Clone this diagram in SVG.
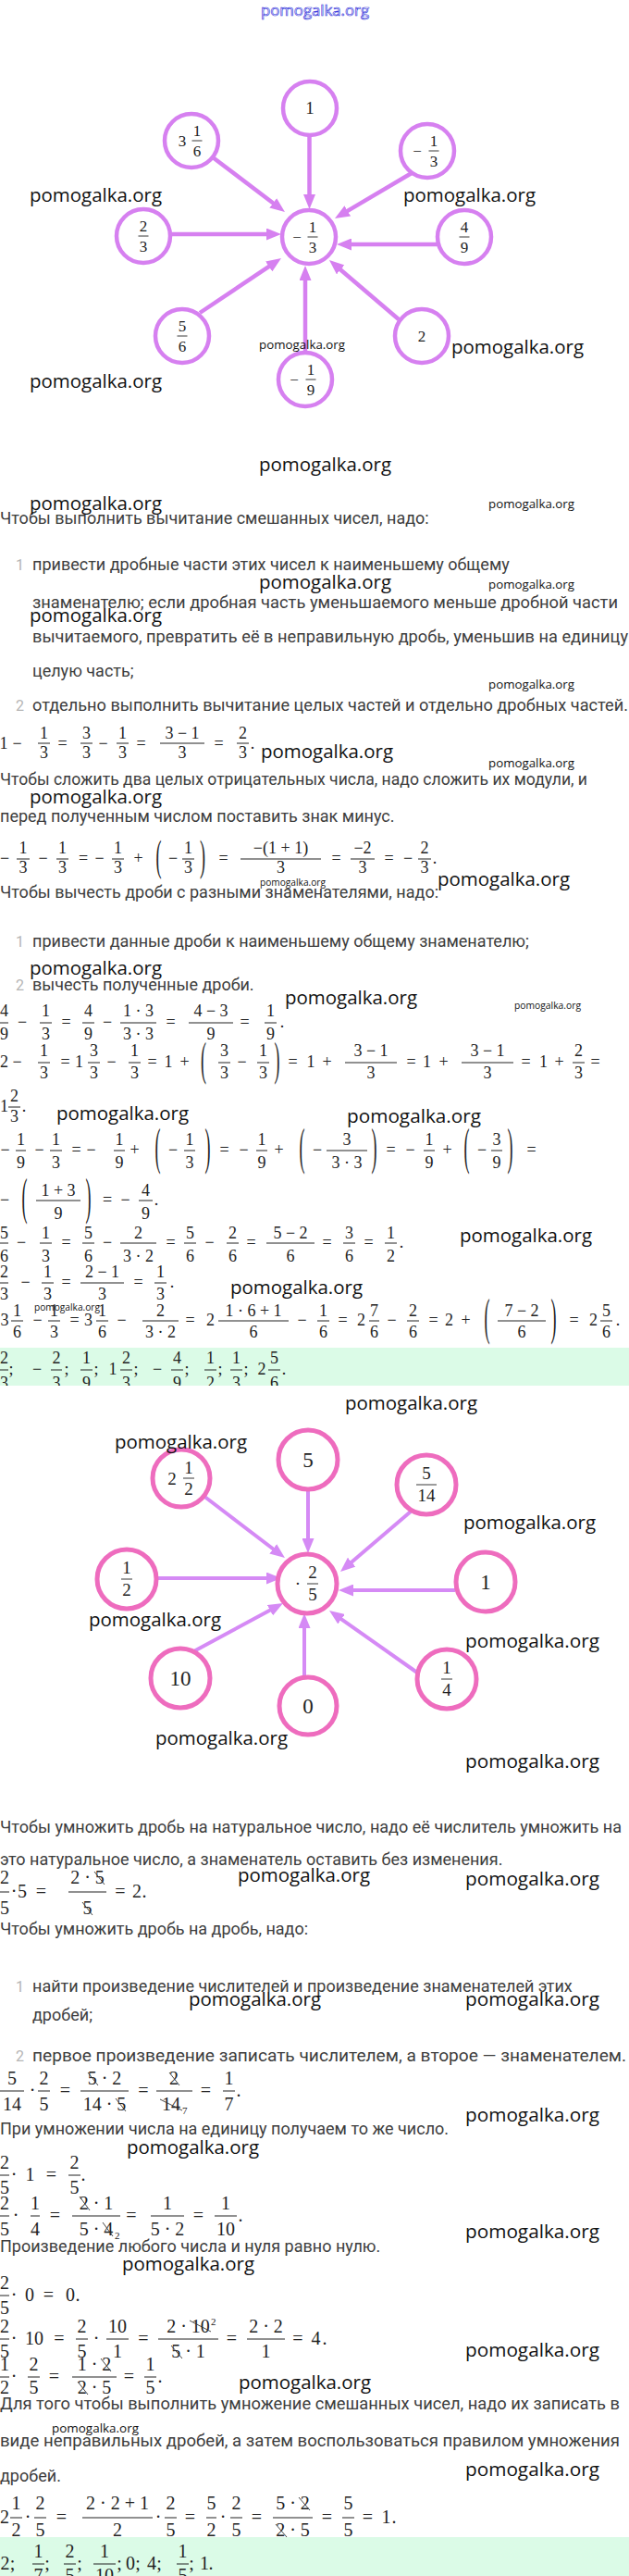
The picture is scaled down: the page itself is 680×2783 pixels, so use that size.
<svg xmlns="http://www.w3.org/2000/svg" width="680" height="2783" viewBox="0 0 680 2783">
<style>
.m{font-family:"Liberation Serif","DejaVu Serif",serif;font-size:18px;fill:#222;text-anchor:middle}
.m2{font-family:"Liberation Serif","DejaVu Serif",serif;font-size:20px;fill:#222;text-anchor:middle}
.sm{font-family:"Liberation Serif",serif;font-size:11px;fill:#222}
.fb{stroke:#222;stroke-width:1;fill:none}
.k{stroke:#333;stroke-width:0.9;fill:none}
.t{font-family:Roboto,"Noto Sans",sans-serif;font-size:18px;fill:#3d3d3d}
.mk{font-family:Roboto,"Noto Sans",sans-serif;font-size:16px;fill:#b5b5b5}
.w{font-family:"Open Sans","Noto Sans",sans-serif;fill:#111}
.wl{font-size:20px}.ws{font-size:13px}.wt{font-size:10.5px}
.c1{fill:#fff;stroke:#d680f0;stroke-width:4.5}
.a1{stroke:#d680f0;stroke-width:4.5;fill:none;marker-end:url(#h1)}
.c2{fill:#fff;stroke:#ee6cbe;stroke-width:5}
.a2{stroke:#d58af5;stroke-width:4;fill:none;marker-end:url(#h2)}
.nl{font-family:"Liberation Serif","DejaVu Serif",serif;font-size:17px;fill:#222;text-anchor:middle}
.nl2{font-family:"Liberation Serif","DejaVu Serif",serif;font-size:19px;fill:#222;text-anchor:middle}
.nb{stroke:#222;stroke-width:0.9;fill:none}
.band{fill:#dbfbe7}
</style>
<defs>
<marker id="h1" viewBox="0 0 16 13" refX="6" refY="6.5" markerWidth="16" markerHeight="13" markerUnits="userSpaceOnUse" orient="auto"><path d="M0,0L16,6.5L0,13z" fill="#d680f0"/></marker>
<marker id="h2" viewBox="0 0 16 13" refX="6" refY="6.5" markerWidth="16" markerHeight="13" markerUnits="userSpaceOnUse" orient="auto"><path d="M0,0L16,6.5L0,13z" fill="#d58af5"/></marker>
<clipPath id="cb1"><rect x="0" y="1456" width="680" height="41"/></clipPath>
<clipPath id="cb2"><rect x="0" y="2741" width="680" height="42"/></clipPath>
</defs>
<rect x="0" y="0" width="680" height="2783" fill="#fff"/>

<!-- Diagram 1 -->
<g id="d1-connectors">
<path class="a1" d="M334.5,146V216"/>
<path class="a1" d="M230,170L300,223"/>
<path class="a1" d="M445,187L370.6,230.9"/>
<path class="a1" d="M184,253H294"/>
<path class="a1" d="M473,264H374"/>
<path class="a1" d="M216,338L295.7,284.6"/>
<path class="a1" d="M330,381V297"/>
<path class="a1" d="M431,345L363.6,287.5"/>
</g>
<g id="d1-n1"><circle class="c1" cx="335" cy="117" r="29"/><text class="nl" x="335" y="123" style="font-size:19px">1</text></g>
<g id="d1-n2"><circle class="c1" cx="207" cy="152" r="29"/><text class="nl" x="197" y="158">3</text><text class="nl" x="213" y="147">1</text><path class="nb" d="M207.5,152H218.5"/><text class="nl" x="213" y="169">6</text></g>
<g id="d1-n3"><circle class="c1" cx="462" cy="163" r="29"/><text class="nl" x="451" y="169">−</text><text class="nl" x="469" y="158">1</text><path class="nb" d="M463.5,163H474.5"/><text class="nl" x="469" y="180">3</text></g>
<g id="d1-n4"><circle class="c1" cx="155" cy="255" r="29"/><text class="nl" x="155" y="250">2</text><path class="nb" d="M149.5,255H160.5"/><text class="nl" x="155" y="272">3</text></g>
<g id="d1-center"><circle class="c1" cx="334" cy="256" r="29"/><text class="nl" x="321" y="262">−</text><text class="nl" x="338" y="251">1</text><path class="nb" d="M332.5,256H343.5"/><text class="nl" x="338" y="273">3</text></g>
<g id="d1-n5"><circle class="c1" cx="502" cy="256" r="29"/><text class="nl" x="502" y="251">4</text><path class="nb" d="M496.5,256H507.5"/><text class="nl" x="502" y="273">9</text></g>
<g id="d1-n6"><circle class="c1" cx="197" cy="363" r="29"/><text class="nl" x="197" y="358">5</text><path class="nb" d="M191.5,363H202.5"/><text class="nl" x="197" y="380">6</text></g>
<g id="d1-n7"><circle class="c1" cx="456" cy="363" r="29"/><text class="nl" x="456" y="369">2</text></g>
<g id="d1-n8"><circle class="c1" cx="330" cy="410" r="29"/><text class="nl" x="318" y="416">−</text><text class="nl" x="336" y="405">1</text><path class="nb" d="M330.5,410H341.5"/><text class="nl" x="336" y="427">9</text></g>

<!-- Text part 1 -->
<g id="text1">
<text class="t" x="0" y="566">Чтобы выполнить вычитание смешанных чисел, надо:</text>
<text class="mk" x="17" y="616">1</text>
<text class="t" x="35" y="616">привести дробные части этих чисел к наименьшему общему</text>
<text class="t" x="35" y="657" textLength="633" lengthAdjust="spacingAndGlyphs">знаменателю; если дробная часть уменьшаемого меньше дробной части</text>
<text class="t" x="35" y="694" textLength="644" lengthAdjust="spacingAndGlyphs">вычитаемого, превратить её в неправильную дробь, уменьшив на единицу</text>
<text class="t" x="35" y="731">целую часть;</text>
<text class="mk" x="17" y="768">2</text>
<text class="t" x="35" y="768" textLength="644" lengthAdjust="spacingAndGlyphs">отдельно выполнить вычитание целых частей и отдельно дробных частей.</text>
<text class="t" x="0" y="848" textLength="635" lengthAdjust="spacingAndGlyphs">Чтобы сложить два целых отрицательных числа, надо сложить их модули, и</text>
<text class="t" x="0" y="888">перед полученным числом поставить знак минус.</text>
<text class="t" x="0" y="970">Чтобы вычесть дроби с разными знаменателями, надо:</text>
<text class="mk" x="17" y="1023">1</text>
<text class="t" x="35" y="1023">привести данные дроби к наименьшему общему знаменателю;</text>
<text class="mk" x="17" y="1070">2</text>
<text class="t" x="35" y="1070">вычесть полученные дроби.</text>
</g>

<g id="eqA">
<text class="m" y="809"><tspan x="4">1</tspan><tspan x="18.5">−</tspan><tspan x="67.5">=</tspan><tspan x="111.5">−</tspan><tspan x="152.5">=</tspan><tspan x="236.5">=</tspan><tspan x="273">.</tspan></text>
<text class="m" y="798"><tspan x="47.5">1</tspan><tspan x="93.5">3</tspan><tspan x="132.5">1</tspan><tspan x="197">3 − 1</tspan><tspan x="262.5">2</tspan></text>
<text class="m" y="819"><tspan x="47.5">3</tspan><tspan x="93.5">3</tspan><tspan x="132.5">3</tspan><tspan x="197">3</tspan><tspan x="262.5">3</tspan></text>
<path class="fb" d="M41,803H54M87,803H100M126,803H139M173,803H221M256,803H269"/>
</g>
<g id="eqB">
<text class="m" y="933"><tspan x="5">−</tspan><tspan x="46.5">−</tspan><tspan x="90">=</tspan><tspan x="107.5">−</tspan><tspan x="149.5">+</tspan><tspan x="187">−</tspan><tspan x="241.5">=</tspan><tspan x="363.5">=</tspan><tspan x="420.5">=</tspan><tspan x="441">−</tspan><tspan x="470">.</tspan></text>
<text class="m" y="922"><tspan x="25">1</tspan><tspan x="67.5">1</tspan><tspan x="127.5">1</tspan><tspan x="203.5">1</tspan><tspan x="303.5">−(1 + 1)</tspan><tspan x="392">−2</tspan><tspan x="459">2</tspan></text>
<text class="m" y="943"><tspan x="25">3</tspan><tspan x="67.5">3</tspan><tspan x="127.5">3</tspan><tspan x="203.5">3</tspan><tspan x="303.5">3</tspan><tspan x="392">3</tspan><tspan x="459">3</tspan></text>
<path class="fb" d="M18,928H32M61,928H74M121,928H134M197,928H210M260,928H347M379,928H405M452,928H466"/>
<text class="m" transform="translate(171.5,928) scale(1,2.6)" y="4.5">(</text>
<text class="m" transform="translate(219,928) scale(1,2.6)" y="4.5">)</text>
</g>
<g id="eqC">
<text class="m" y="1110"><tspan x="24">−</tspan><tspan x="71.5">=</tspan><tspan x="116">−</tspan><tspan x="184.5">=</tspan><tspan x="264.5">=</tspan><tspan x="305">.</tspan></text>
<text class="m" y="1098"><tspan x="4.5">4</tspan><tspan x="49.5">1</tspan><tspan x="95.5">4</tspan><tspan x="149.5">1 · 3</tspan><tspan x="228">4 − 3</tspan><tspan x="292.5">1</tspan></text>
<text class="m" y="1123"><tspan x="4.5">9</tspan><tspan x="49.5">3</tspan><tspan x="95.5">9</tspan><tspan x="149.5">3 · 3</tspan><tspan x="228">9</tspan><tspan x="292.5">9</tspan></text>
<path class="fb" d="M0,1105H9M43,1105H56M89,1105H102M130,1105H169M204,1105H252M286,1105H299"/>
</g>
<g id="eqD">
<text class="m" y="1153"><tspan x="4.5">2</tspan><tspan x="18.5">−</tspan><tspan x="70.5">=</tspan><tspan x="85.5">1</tspan><tspan x="120.5">−</tspan><tspan x="164.5">=</tspan><tspan x="182">1</tspan><tspan x="199.5">+</tspan><tspan x="261.5">−</tspan><tspan x="316.5">=</tspan><tspan x="336">1</tspan><tspan x="353.5">+</tspan><tspan x="444.5">=</tspan><tspan x="461.5">1</tspan><tspan x="479.5">+</tspan><tspan x="568.5">=</tspan><tspan x="587.5">1</tspan><tspan x="604.5">+</tspan><tspan x="643.5">=</tspan></text>
<text class="m" y="1141"><tspan x="47.5">1</tspan><tspan x="101.5">3</tspan><tspan x="145.5">1</tspan><tspan x="242.5">3</tspan><tspan x="284.5">1</tspan><tspan x="401">3 − 1</tspan><tspan x="527">3 − 1</tspan><tspan x="625.5">2</tspan></text>
<text class="m" y="1165"><tspan x="47.5">3</tspan><tspan x="101.5">3</tspan><tspan x="145.5">3</tspan><tspan x="242.5">3</tspan><tspan x="284.5">3</tspan><tspan x="401">3</tspan><tspan x="527">3</tspan><tspan x="625.5">3</tspan></text>
<path class="fb" d="M41,1148H54M95,1148H108M139,1148H152M236,1148H249M278,1148H291M373,1148H429M499,1148H555M619,1148H632"/>
<text class="m" transform="translate(220,1148) scale(1,2.8)" y="4.5">(</text>
<text class="m" transform="translate(299.5,1148) scale(1,2.8)" y="4.5">)</text>
</g>
<g id="eqE">
<text class="m" y="1201"><tspan x="4.5">1</tspan><tspan x="26">.</tspan></text>
<text class="m" x="15.5" y="1190">2</text>
<text class="m" x="15.5" y="1212">3</text>
<path class="fb" d="M9,1196H22"/>
</g>
<g id="eqF">
<text class="m" y="1248"><tspan x="5.5">−</tspan><tspan x="42.5">−</tspan><tspan x="82.5">=</tspan><tspan x="98.5">−</tspan><tspan x="145.5">+</tspan><tspan x="187">−</tspan><tspan x="242.5">=</tspan><tspan x="263.5">−</tspan><tspan x="301.5">+</tspan><tspan x="343">−</tspan><tspan x="422.5">=</tspan><tspan x="443.5">−</tspan><tspan x="483.5">+</tspan><tspan x="521">−</tspan><tspan x="574.5">=</tspan></text>
<text class="m" y="1237"><tspan x="22.5">1</tspan><tspan x="60.5">1</tspan><tspan x="129">1</tspan><tspan x="205">1</tspan><tspan x="283">1</tspan><tspan x="375">3</tspan><tspan x="464">1</tspan><tspan x="537">3</tspan></text>
<text class="m" y="1262"><tspan x="22.5">9</tspan><tspan x="60.5">3</tspan><tspan x="129">9</tspan><tspan x="205">3</tspan><tspan x="283">9</tspan><tspan x="375">3 · 3</tspan><tspan x="464">9</tspan><tspan x="537">9</tspan></text>
<path class="fb" d="M17,1243H28M54,1243H67M123,1243H135M199,1243H211M277,1243H289M353,1243H397M458,1243H470M531,1243H543"/>
<text class="m" transform="translate(170.5,1243) scale(1,3)" y="4.5">(</text>
<text class="m" transform="translate(224.5,1243) scale(1,3)" y="4.5">)</text>
<text class="m" transform="translate(326.5,1243) scale(1,3)" y="4.5">(</text>
<text class="m" transform="translate(404.5,1243) scale(1,3)" y="4.5">)</text>
<text class="m" transform="translate(504.5,1243) scale(1,3)" y="4.5">(</text>
<text class="m" transform="translate(551.5,1243) scale(1,3)" y="4.5">)</text>
</g>
<g id="eqG">
<text class="m" y="1302"><tspan x="5">−</tspan><tspan x="116">=</tspan><tspan x="135.5">−</tspan><tspan x="169">.</tspan></text>
<text class="m" y="1292"><tspan x="63">1 + 3</tspan><tspan x="157.5">4</tspan></text>
<text class="m" y="1317"><tspan x="63">9</tspan><tspan x="157.5">9</tspan></text>
<path class="fb" d="M39,1297H87M150,1297H165"/>
<text class="m" transform="translate(26.5,1297) scale(1,3)" y="4.5">(</text>
<text class="m" transform="translate(95.5,1297) scale(1,3)" y="4.5">)</text>
</g>
<g id="eqH">
<text class="m" y="1348"><tspan x="23">−</tspan><tspan x="71.5">=</tspan><tspan x="116">−</tspan><tspan x="184.5">=</tspan><tspan x="226.5">−</tspan><tspan x="271.5">=</tspan><tspan x="353.5">=</tspan><tspan x="398.5">=</tspan><tspan x="434">.</tspan></text>
<text class="m" y="1338"><tspan x="4.5">5</tspan><tspan x="49.5">1</tspan><tspan x="95.5">5</tspan><tspan x="149.5">2</tspan><tspan x="205.5">5</tspan><tspan x="251.5">2</tspan><tspan x="314">5 − 2</tspan><tspan x="377.5">3</tspan><tspan x="422.5">1</tspan></text>
<text class="m" y="1363"><tspan x="4.5">6</tspan><tspan x="49.5">3</tspan><tspan x="95.5">6</tspan><tspan x="149.5">3 · 2</tspan><tspan x="205.5">6</tspan><tspan x="251.5">6</tspan><tspan x="314">6</tspan><tspan x="377.5">6</tspan><tspan x="422.5">2</tspan></text>
<path class="fb" d="M0,1343H9M43,1343H56M89,1343H102M130,1343H169M199,1343H212M245,1343H258M288,1343H340M371,1343H384M416,1343H429"/>
</g>
<g id="eqI">
<text class="m" y="1391"><tspan x="27.5">−</tspan><tspan x="71.5">=</tspan><tspan x="149.5">=</tspan><tspan x="186">.</tspan></text>
<text class="m" y="1380"><tspan x="4.5">2</tspan><tspan x="51.5">1</tspan><tspan x="110.5">2 − 1</tspan><tspan x="173.5">1</tspan></text>
<text class="m" y="1404"><tspan x="4.5">3</tspan><tspan x="51.5">3</tspan><tspan x="110.5">3</tspan><tspan x="173.5">3</tspan></text>
<path class="fb" d="M0,1386H9M45,1386H58M87,1386H134M167,1386H180"/>
</g>
<g id="eqJ">
<text class="m" y="1432"><tspan x="5">3</tspan><tspan x="40.5">−</tspan><tspan x="80.5">=</tspan><tspan x="95.5">3</tspan><tspan x="131.5">−</tspan><tspan x="205.5">=</tspan><tspan x="227.5">2</tspan><tspan x="326.5">−</tspan><tspan x="370.5">=</tspan><tspan x="390.5">2</tspan><tspan x="423.5">−</tspan><tspan x="468.5">=</tspan><tspan x="485.5">2</tspan><tspan x="503.5">+</tspan><tspan x="620.5">=</tspan><tspan x="641.5">2</tspan><tspan x="668">.</tspan></text>
<text class="m" y="1422"><tspan x="18.5">1</tspan><tspan x="58.5">1</tspan><tspan x="110.5">1</tspan><tspan x="173.5">2</tspan><tspan x="274">1 · 6 + 1</tspan><tspan x="349.5">1</tspan><tspan x="404.5">7</tspan><tspan x="446.5">2</tspan><tspan x="564">7 − 2</tspan><tspan x="655.5">5</tspan></text>
<text class="m" y="1445"><tspan x="18.5">6</tspan><tspan x="58.5">3</tspan><tspan x="110.5">6</tspan><tspan x="173.5">3 · 2</tspan><tspan x="274">6</tspan><tspan x="349.5">6</tspan><tspan x="404.5">6</tspan><tspan x="446.5">6</tspan><tspan x="564">6</tspan><tspan x="655.5">6</tspan></text>
<path class="fb" d="M12,1427H25M52,1427H65M104,1427H117M154,1427H193M236,1427H312M343,1427H356M399,1427H410M440,1427H453M538,1427H590M649,1427H662"/>
<text class="m" transform="translate(526.5,1427) scale(1,3)" y="4.5">(</text>
<text class="m" transform="translate(598.5,1427) scale(1,3)" y="4.5">)</text>
</g>
<g id="answer1">
<rect class="band" x="0" y="1456" width="680" height="41"/>
<g clip-path="url(#cb1)">
<text class="m" y="1485"><tspan x="12">;</tspan><tspan x="40">−</tspan><tspan x="72">;</tspan><tspan x="104">;</tspan><tspan x="122">1</tspan><tspan x="147">;</tspan><tspan x="170">−</tspan><tspan x="202">;</tspan><tspan x="238">;</tspan><tspan x="266">;</tspan><tspan x="283">2</tspan><tspan x="307">.</tspan></text>
<text class="m" y="1473"><tspan x="4.5">2</tspan><tspan x="61">2</tspan><tspan x="93.5">1</tspan><tspan x="136.5">2</tspan><tspan x="191.5">4</tspan><tspan x="227.5">1</tspan><tspan x="255.5">1</tspan><tspan x="296.5">5</tspan></text>
<text class="m" y="1500"><tspan x="4.5">3</tspan><tspan x="61">3</tspan><tspan x="93.5">9</tspan><tspan x="136.5">3</tspan><tspan x="191.5">9</tspan><tspan x="227.5">2</tspan><tspan x="255.5">3</tspan><tspan x="296.5">6</tspan></text>
<path class="fb" d="M0,1480H9M55,1480H67M87,1480H100M130,1480H143M185,1480H198M221,1480H234M249,1480H262M290,1480H303"/>
</g>
</g>

<!-- Diagram 2 -->
<g id="d2-connectors">
<path class="a2" d="M220,1616L300,1677"/>
<path class="a2" d="M333,1609V1668"/>
<path class="a2" d="M444,1633L375.6,1691.5"/>
<path class="a2" d="M169,1705H294"/>
<path class="a2" d="M492,1718H376"/>
<path class="a2" d="M204,1787L297.2,1736.8"/>
<path class="a2" d="M329,1812V1753"/>
<path class="a2" d="M451,1807L364.2,1745.8"/>
</g>
<g id="d2-m1"><circle class="c2" cx="196" cy="1597" r="31"/><text class="nl2" x="186" y="1604">2</text><text class="nl2" x="204" y="1592">1</text><path class="nb" d="M198,1597H210"/><text class="nl2" x="204" y="1615">2</text></g>
<g id="d2-m2"><circle class="c2" cx="333" cy="1577" r="32"/><text class="nl2" x="333" y="1585" style="font-size:23px">5</text></g>
<g id="d2-m3"><circle class="c2" cx="461" cy="1604" r="32"/><text class="nl2" x="461" y="1598">5</text><path class="nb" d="M450,1604H472"/><text class="nl2" x="461" y="1622">14</text></g>
<g id="d2-m4"><circle class="c2" cx="137" cy="1706" r="32"/><text class="nl2" x="137" y="1700">1</text><path class="nb" d="M131,1706H143"/><text class="nl2" x="137" y="1724">2</text></g>
<g id="d2-center"><circle class="c2" cx="332" cy="1711" r="32"/><text class="nl2" x="322" y="1717">·</text><text class="nl2" x="338" y="1705">2</text><path class="nb" d="M332,1711H344"/><text class="nl2" x="338" y="1729">5</text></g>
<g id="d2-m5"><circle class="c2" cx="525" cy="1709" r="32"/><text class="nl2" x="525" y="1717" style="font-size:23px">1</text></g>
<g id="d2-m6"><circle class="c2" cx="195" cy="1813" r="32"/><text class="nl2" x="195" y="1821" style="font-size:23px">10</text></g>
<g id="d2-m7"><circle class="c2" cx="333" cy="1843" r="31"/><text class="nl2" x="333" y="1851" style="font-size:23px">0</text></g>
<g id="d2-m8"><circle class="c2" cx="483" cy="1814" r="32"/><text class="nl2" x="483" y="1808">1</text><path class="nb" d="M477,1814H489"/><text class="nl2" x="483" y="1832">4</text></g>

<!-- Text part 2 -->
<g id="text2">
<text class="t" x="0" y="1980" textLength="672" lengthAdjust="spacingAndGlyphs">Чтобы умножить дробь на натуральное число, надо её числитель умножить на</text>
<text class="t" x="0" y="2015">это натуральное число, а знаменатель оставить без изменения.</text>
<text class="t" x="0" y="2090">Чтобы умножить дробь на дробь, надо:</text>
<text class="mk" x="17" y="2152">1</text>
<text class="t" x="35" y="2152">найти произведение числителей и произведение знаменателей этих</text>
<text class="t" x="35" y="2183">дробей;</text>
<text class="mk" x="17" y="2227">2</text>
<text class="t" x="35" y="2227" textLength="642" lengthAdjust="spacingAndGlyphs">первое произведение записать числителем, а второе — знаменателем.</text>
<text class="t" x="0" y="2306">При умножении числа на единицу получаем то же число.</text>
<text class="t" x="0" y="2433">Произведение любого числа и нуля равно нулю.</text>
<text class="t" x="0" y="2603" textLength="670" lengthAdjust="spacingAndGlyphs">Для того чтобы выполнить умножение смешанных чисел, надо их записать в</text>
<text class="t" x="0" y="2643" textLength="670" lengthAdjust="spacingAndGlyphs">виде неправильных дробей, а затем воспользоваться правилом умножения</text>
<text class="t" x="0" y="2681">дробей.</text>
</g>

<g id="eqL">
<text class="m2" y="2050"><tspan x="15">·</tspan><tspan x="24">5</tspan><tspan x="44.5">=</tspan><tspan x="130">=</tspan><tspan x="148">2</tspan><tspan x="156">.</tspan></text>
<text class="m2" y="2035"><tspan x="5">2</tspan><tspan x="94.5">2 · 5</tspan></text>
<text class="m2" y="2068"><tspan x="5">5</tspan><tspan x="94.5">5</tspan></text>
<path class="fb" d="M0,2044H10M74,2044H115"/>
<path class="k" d="M102,2022L113,2036M89,2055L100,2069"/>
</g>
<g id="eqM">
<text class="m2" y="2265"><tspan x="35">·</tspan><tspan x="70.5">=</tspan><tspan x="155">=</tspan><tspan x="222.5">=</tspan><tspan x="258">.</tspan></text>
<text class="m2" y="2252"><tspan x="13">5</tspan><tspan x="47.5">2</tspan><tspan x="113">5 · 2</tspan><tspan x="188">2</tspan><tspan x="247.5">1</tspan></text>
<text class="m2" y="2280"><tspan x="13">14</tspan><tspan x="47.5">5</tspan><tspan x="113">14 · 5</tspan><tspan x="185">14</tspan><tspan x="247.5">7</tspan></text>
<text class="sm" x="197" y="2284">7</text>
<path class="fb" d="M0,2259H26M41,2259H54M87,2259H139M169,2259H208M241,2259H254"/>
<path class="k" d="M95,2239L106,2253M125,2267L136,2281M183,2239L194,2253M173,2268L197,2280"/>
</g>
<g id="eqN1">
<text class="m2" y="2356"><tspan x="15">·</tspan><tspan x="32.5">1</tspan><tspan x="55.5">=</tspan><tspan x="90">.</tspan></text>
<text class="m2" y="2343"><tspan x="5">2</tspan><tspan x="80.5">2</tspan></text>
<text class="m2" y="2370"><tspan x="5">5</tspan><tspan x="80.5">5</tspan></text>
<path class="fb" d="M0,2350H10M74,2350H87"/>
</g>
<g id="eqN2">
<text class="m2" y="2400"><tspan x="17">·</tspan><tspan x="59.5">=</tspan><tspan x="142">=</tspan><tspan x="214.5">=</tspan><tspan x="260">.</tspan></text>
<text class="m2" y="2387"><tspan x="5">2</tspan><tspan x="38">1</tspan><tspan x="104">2 · 1</tspan><tspan x="181">1</tspan><tspan x="244">1</tspan></text>
<text class="m2" y="2415"><tspan x="5">5</tspan><tspan x="38">4</tspan><tspan x="104">5 · 4</tspan><tspan x="181">5 · 2</tspan><tspan x="244">10</tspan></text>
<text class="sm" x="124" y="2419">2</text>
<path class="fb" d="M0,2394H10M33,2394H43M78,2394H130M163,2394H199M232,2394H256"/>
<path class="k" d="M86,2373L97,2388M111,2401L122,2416"/>
</g>
<g id="eqN3">
<text class="m2" y="2486"><tspan x="15">·</tspan><tspan x="32">0</tspan><tspan x="52.5">=</tspan><tspan x="76">0</tspan><tspan x="84">.</tspan></text>
<text class="m2" x="5" y="2473">2</text>
<text class="m2" x="5" y="2500">5</text>
<path class="fb" d="M0,2480H10"/>
</g>
<g id="eqN4">
<text class="m2" y="2533"><tspan x="15">·</tspan><tspan x="37">10</tspan><tspan x="64">=</tspan><tspan x="104">·</tspan><tspan x="155">=</tspan><tspan x="250.5">=</tspan><tspan x="322">=</tspan><tspan x="341.5">4</tspan><tspan x="351">.</tspan></text>
<text class="m2" y="2520"><tspan x="5">2</tspan><tspan x="88.5">2</tspan><tspan x="127">10</tspan><tspan x="203.5">2 · 10</tspan><tspan x="287.5">2 · 2</tspan></text>
<text class="m2" y="2547"><tspan x="5">5</tspan><tspan x="88.5">5</tspan><tspan x="127">1</tspan><tspan x="203.5">5 · 1</tspan><tspan x="287.5">1</tspan></text>
<text class="sm" x="228" y="2512">2</text>
<path class="fb" d="M0,2527H10M82,2527H95M115,2527H139M171,2527H236M267,2527H308"/>
<path class="k" d="M205,2507L228,2519M185,2534L197,2548"/>
</g>
<g id="eqN5">
<text class="m2" y="2574"><tspan x="15">·</tspan><tspan x="58.5">=</tspan><tspan x="139.5">=</tspan><tspan x="173">.</tspan></text>
<text class="m2" y="2561"><tspan x="5">1</tspan><tspan x="36.5">2</tspan><tspan x="102">1 · 2</tspan><tspan x="162.5">1</tspan></text>
<text class="m2" y="2586"><tspan x="5">2</tspan><tspan x="36.5">5</tspan><tspan x="102">2 · 5</tspan><tspan x="162.5">5</tspan></text>
<path class="fb" d="M0,2568H10M30,2568H43M78,2568H126M156,2568H169"/>
<path class="k" d="M109,2548L120,2562M84,2573L95,2587"/>
</g>
<g id="eqN6">
<text class="m2" y="2726"><tspan x="5">2</tspan><tspan x="30">·</tspan><tspan x="66.5">=</tspan><tspan x="171">·</tspan><tspan x="205.5">=</tspan><tspan x="241">·</tspan><tspan x="277.5">=</tspan><tspan x="353.5">=</tspan><tspan x="397.5">=</tspan><tspan x="417.5">1</tspan><tspan x="426">.</tspan></text>
<text class="m2" y="2711"><tspan x="17.5">1</tspan><tspan x="43.5">2</tspan><tspan x="127">2 · 2 + 1</tspan><tspan x="184.5">2</tspan><tspan x="228.5">5</tspan><tspan x="255.5">2</tspan><tspan x="316.5">5 · 2</tspan><tspan x="376.5">5</tspan></text>
<text class="m2" y="2740"><tspan x="17.5">2</tspan><tspan x="43.5">5</tspan><tspan x="127">2</tspan><tspan x="184.5">5</tspan><tspan x="228.5">2</tspan><tspan x="255.5">5</tspan><tspan x="316.5">2 · 5</tspan><tspan x="376.5">5</tspan></text>
<path class="fb" d="M11,2720H24M37,2720H50M89,2720H165M178,2720H191M223,2720H234M249,2720H262M295,2720H338M370,2720H383"/>
<path class="k" d="M323,2698L335,2712M298,2727L310,2741"/>
</g>
<g id="answer2">
<rect class="band" x="0" y="2741" width="680" height="42"/>
<g clip-path="url(#cb2)">
<text class="m2" y="2776"><tspan x="5.5">2</tspan><tspan x="13.5">;</tspan><tspan x="51">;</tspan><tspan x="86">;</tspan><tspan x="129">;</tspan><tspan x="141">0</tspan><tspan x="149">;</tspan><tspan x="164">4</tspan><tspan x="172">;</tspan><tspan x="207">;</tspan><tspan x="221">1</tspan><tspan x="228">.</tspan></text>
<text class="m2" y="2763"><tspan x="41.5">1</tspan><tspan x="75.5">2</tspan><tspan x="113">1</tspan><tspan x="197.5">1</tspan></text>
<text class="m2" y="2789"><tspan x="41.5">7</tspan><tspan x="75.5">5</tspan><tspan x="113">10</tspan><tspan x="197.5">5</tspan></text>
<path class="fb" d="M35,2770H48M69,2770H82M101,2770H125M191,2770H204"/>
</g>
</g>

<!-- Watermarks -->
<g id="watermarks">
<text x="282" y="17" textLength="117" lengthAdjust="spacingAndGlyphs" style="font-family:'Open Sans',sans-serif;font-size:17px;fill:#fff;stroke:#3b3bdc;stroke-width:0.7">pomogalka.org</text>
<g class="w wl">
<text x="32" y="218" textLength="143" lengthAdjust="spacingAndGlyphs">pomogalka.org</text>
<text x="436" y="218" textLength="143" lengthAdjust="spacingAndGlyphs">pomogalka.org</text>
<text x="488" y="382" textLength="143" lengthAdjust="spacingAndGlyphs">pomogalka.org</text>
<text x="32" y="419" textLength="143" lengthAdjust="spacingAndGlyphs">pomogalka.org</text>
<text x="280" y="509" textLength="143" lengthAdjust="spacingAndGlyphs">pomogalka.org</text>
<text x="32" y="551" textLength="143" lengthAdjust="spacingAndGlyphs">pomogalka.org</text>
<text x="280" y="636" textLength="143" lengthAdjust="spacingAndGlyphs">pomogalka.org</text>
<text x="32" y="672" textLength="143" lengthAdjust="spacingAndGlyphs">pomogalka.org</text>
<text x="282" y="819" textLength="143" lengthAdjust="spacingAndGlyphs">pomogalka.org</text>
<text x="32" y="868" textLength="143" lengthAdjust="spacingAndGlyphs">pomogalka.org</text>
<text x="473" y="957" textLength="143" lengthAdjust="spacingAndGlyphs">pomogalka.org</text>
<text x="32" y="1053" textLength="143" lengthAdjust="spacingAndGlyphs">pomogalka.org</text>
<text x="308" y="1085" textLength="143" lengthAdjust="spacingAndGlyphs">pomogalka.org</text>
<text x="61" y="1210" textLength="143" lengthAdjust="spacingAndGlyphs">pomogalka.org</text>
<text x="375" y="1213" textLength="145" lengthAdjust="spacingAndGlyphs">pomogalka.org</text>
<text x="497" y="1342" textLength="143" lengthAdjust="spacingAndGlyphs">pomogalka.org</text>
<text x="249" y="1398" textLength="143" lengthAdjust="spacingAndGlyphs">pomogalka.org</text>
<text x="373" y="1523" textLength="143" lengthAdjust="spacingAndGlyphs">pomogalka.org</text>
<text x="124" y="1565" textLength="143" lengthAdjust="spacingAndGlyphs">pomogalka.org</text>
<text x="501" y="1652" textLength="143" lengthAdjust="spacingAndGlyphs">pomogalka.org</text>
<text x="96" y="1757" textLength="143" lengthAdjust="spacingAndGlyphs">pomogalka.org</text>
<text x="503" y="1780" textLength="145" lengthAdjust="spacingAndGlyphs">pomogalka.org</text>
<text x="168" y="1885" textLength="143" lengthAdjust="spacingAndGlyphs">pomogalka.org</text>
<text x="503" y="1910" textLength="145" lengthAdjust="spacingAndGlyphs">pomogalka.org</text>
<text x="257" y="2033" textLength="143" lengthAdjust="spacingAndGlyphs">pomogalka.org</text>
<text x="503" y="2037" textLength="145" lengthAdjust="spacingAndGlyphs">pomogalka.org</text>
<text x="204" y="2167" textLength="143" lengthAdjust="spacingAndGlyphs">pomogalka.org</text>
<text x="503" y="2167" textLength="145" lengthAdjust="spacingAndGlyphs">pomogalka.org</text>
<text x="503" y="2292" textLength="145" lengthAdjust="spacingAndGlyphs">pomogalka.org</text>
<text x="137" y="2327" textLength="143" lengthAdjust="spacingAndGlyphs">pomogalka.org</text>
<text x="503" y="2418" textLength="145" lengthAdjust="spacingAndGlyphs">pomogalka.org</text>
<text x="132" y="2453" textLength="143" lengthAdjust="spacingAndGlyphs">pomogalka.org</text>
<text x="503" y="2546" textLength="145" lengthAdjust="spacingAndGlyphs">pomogalka.org</text>
<text x="258" y="2581" textLength="143" lengthAdjust="spacingAndGlyphs">pomogalka.org</text>
<text x="503" y="2675" textLength="145" lengthAdjust="spacingAndGlyphs">pomogalka.org</text>
</g>
<g class="w ws">
<text x="280" y="377" textLength="93" lengthAdjust="spacingAndGlyphs">pomogalka.org</text>
<text x="528" y="549" textLength="93" lengthAdjust="spacingAndGlyphs">pomogalka.org</text>
<text x="528" y="636" textLength="93" lengthAdjust="spacingAndGlyphs">pomogalka.org</text>
<text x="528" y="744" textLength="93" lengthAdjust="spacingAndGlyphs">pomogalka.org</text>
<text x="528" y="829" textLength="93" lengthAdjust="spacingAndGlyphs">pomogalka.org</text>
<text x="56" y="2628" textLength="94" lengthAdjust="spacingAndGlyphs">pomogalka.org</text>
</g>
<g class="w wt">
<text x="281" y="957" textLength="71" lengthAdjust="spacingAndGlyphs">pomogalka.org</text>
<text x="556" y="1090" textLength="72" lengthAdjust="spacingAndGlyphs">pomogalka.org</text>
<text x="37" y="1416" textLength="71" lengthAdjust="spacingAndGlyphs">pomogalka.org</text>
</g>
</g>
</svg>
